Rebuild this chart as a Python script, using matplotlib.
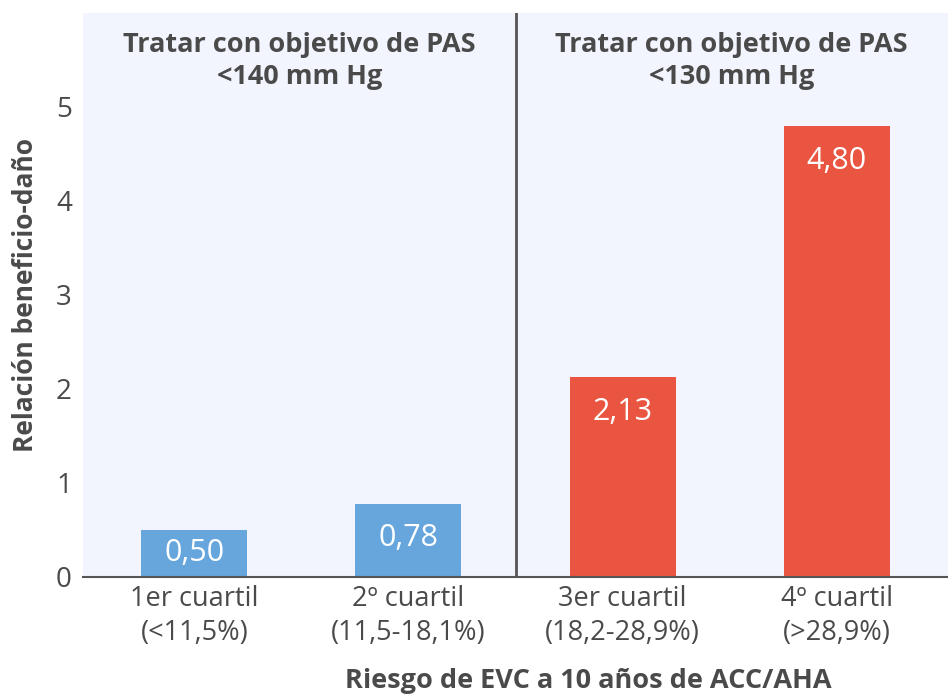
import matplotlib.pyplot as plt

plt.rcParams['font.family'] = ['Open Sans', 'DejaVu Sans']

categories = ['1er cuartil\n(<11,5%)', '2º cuartil\n(11,5-18,1%)',
              '3er cuartil\n(18,2-28,9%)', '4º cuartil\n(>28,9%)']
values = [0.50, 0.78, 2.13, 4.80]
value_labels = ['0,50', '0,78', '2,13', '4,80']
groups = ['Tratar con objetivo de PAS\n<140 mm Hg',
          'Tratar con objetivo de PAS\n<130 mm Hg']

blue = '#66a6dc'
red = '#e95540'
text_col = '#4a4a4a'
colors = [blue, blue, red, red]

fig = plt.figure(figsize=(9.48, 6.95), dpi=100)
ax = fig.add_axes([0.0876, 0.1698, 0.9124, 0.8115])
ax.set_facecolor('#f2f5fd')

x = list(range(len(values)))
ax.bar(x, values, width=0.495, color=colors, zorder=2)

# value labels sit inside the bar, near its top
for xi, v, lab in zip(x, values, value_labels):
    ax.text(xi, max(v - 0.37, 0.255), lab, ha='center', va='center',
            color='white', fontsize=22, zorder=3)

ax.axvline(1.5, color='#555555', lw=2, zorder=1)

ax.text(0.49, 5.49, groups[0], ha='center', va='center', color=text_col,
        fontsize=19.5, fontweight='bold', linespacing=1.3)
ax.text(2.51, 5.49, groups[1], ha='center', va='center', color=text_col,
        fontsize=19.5, fontweight='bold', linespacing=1.3)

ax.set_xlim(-0.52, 3.52)
ax.set_ylim(0, 6)
ax.set_yticks([0, 1, 2, 3, 4, 5])
ax.set_xticks(x)
ax.set_xticklabels(categories, fontsize=19.5, color=text_col, linespacing=1.25)
ax.tick_params(axis='y', length=0, labelsize=20, labelcolor=text_col, pad=8)
ax.tick_params(axis='x', length=0, pad=6)

for s in ['top', 'right', 'left']:
    ax.spines[s].set_visible(False)
ax.spines['bottom'].set_color('#555555')
ax.spines['bottom'].set_linewidth(1.5)

ax.set_ylabel('Relación beneficio-daño', fontsize=19, fontweight='bold',
              color=text_col, labelpad=12)
ax.set_xlabel('Riesgo de EVC a 10 años de ACC/AHA', fontsize=19.5,
              fontweight='bold', color=text_col, va='center')
ax.xaxis.set_label_coords(0.584, -0.185)

fig.savefig('out.png', dpi=100)
